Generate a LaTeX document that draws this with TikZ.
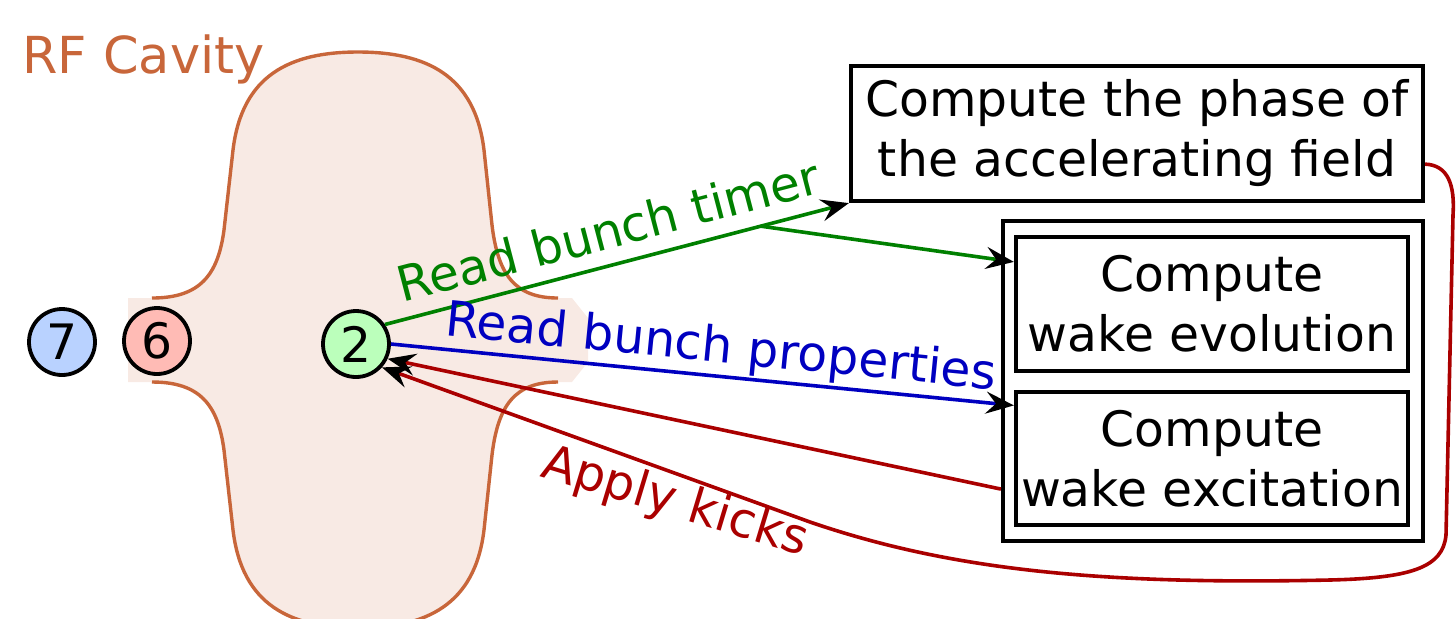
\documentclass[tikz,border=0pt]{standalone}
\usepackage{fontspec}
\setmainfont{DejaVu Sans}
\usetikzlibrary{arrows.meta,calc}
\definecolor{cavline}{RGB}{200,102,58}
\definecolor{cavfill}{RGB}{248,234,228}
\definecolor{cblue}{RGB}{185,210,255}
\definecolor{cred}{RGB}{255,187,181}
\definecolor{cgreen}{RGB}{187,255,187}
\definecolor{tgreen}{RGB}{0,128,0}
\definecolor{tblue}{RGB}{0,0,192}
\definecolor{tred}{RGB}{170,0,0}
\begin{document}
\begin{tikzpicture}[x=0.5pt,y=-0.5pt,font=\fontsize{24.4}{30}\selectfont,
  bunch/.style={circle,draw,line width=1.9pt,minimum size=33pt,inner sep=0pt},
  task/.style={draw,line width=2.1pt,align=center,inner sep=0pt},
  conn/.style={line width=1.8pt},
  cavstroke/.style={cavline,line width=1.7pt},
  tip/.style={-{Stealth[length=14pt,width=11pt,inset=5pt,color=black]}}]
\useasboundingbox (0,0) rectangle (1456,618);
% cavity fill
\fill[cavfill] (128,298) -- (152,298) .. controls (200,298) and (218,275) .. (224,230) -- (233,150)
  .. controls (242,75) and (290,52) .. (358,52) .. controls (426,52) and (475,75) .. (484,150)
  -- (492,225) .. controls (498,275) and (515,298) .. (558,298) -- (572,298) -- (588,318) -- (588,362) -- (572,382) -- (558,382)
  .. controls (515,382) and (498,405) .. (492,455) -- (484,530)
  .. controls (475,605) and (426,628) .. (358,628) .. controls (290,628) and (242,605) .. (233,530)
  -- (224,450) .. controls (218,405) and (200,382) .. (152,382) -- (128,382) -- cycle;
% cavity outline
\draw[cavstroke] (152,298) .. controls (200,298) and (218,275) .. (224,230) -- (233,150)
  .. controls (242,75) and (290,52) .. (358,52) .. controls (426,52) and (475,75) .. (484,150)
  -- (492,225) .. controls (498,275) and (515,298) .. (558,298);
\draw[cavstroke] (152,382) .. controls (200,382) and (218,405) .. (224,450) -- (233,530)
  .. controls (242,605) and (290,628) .. (358,628) .. controls (426,628) and (475,605) .. (484,530)
  -- (492,455) .. controls (498,405) and (515,382) .. (558,382);
\node[anchor=base west,text=cavline,inner sep=0pt,font=\fontsize{25.5}{30}\selectfont] (rf) at (22,73) {RF Cavity};
% bunches
\node[bunch,fill=cblue] (n7) at (62,342) {7};
\node[bunch,fill=cred] (n6) at (157,341) {6};
\node[bunch,fill=cgreen] (n2) at (356,344) {2};
% tasks
\node[task,minimum width=286pt,minimum height=67.5pt] (phase) at (1137,133.5) {Compute the phase of\\the accelerating field};
\node[task,minimum width=210pt,minimum height=160pt] (outer) at (1213,381) {};
\node[task,minimum width=196pt,minimum height=67pt] (evol) at (1212,304) {Compute\\wake evolution};
\node[task,minimum width=196pt,minimum height=66.5pt] (excit) at (1212,458.5) {Compute\\wake excitation};
% connectors
\draw[conn,tgreen,tip] (n2.34) -- node[sloped,above,pos=0.5,inner sep=7pt] {Read bunch timer} (phase.south west);
\coordinate (gb) at ($(n2.34)!0.81!(phase.south west)$);
\draw[conn,tgreen,tip] (gb) -- (evol.168);
\draw[conn,tblue,tip] (n2.0) -- node[sloped,above,pos=0.525,inner sep=1pt] {Read bunch properties} (excit.165.5);
\draw[conn,tred,tip] (outer.207) -- (n2.-25);
\coordinate (k) at (810,522);
\coordinate (pe) at ($(phase.north east)!0.72!(phase.south east)$);
\draw[conn,tred,tip] (pe) .. controls (1448,165) and (1455,185) .. (1453,215) -- (1446,535)
  .. controls (1443,568) and (1410,578) .. (1330,580) .. controls (1100,585) and (950,570) .. (k) -- (n2.-42);
\node[tred,rotate=-16.8] (kicks) at (675,503) {Apply kicks};
\end{tikzpicture}
\end{document}
